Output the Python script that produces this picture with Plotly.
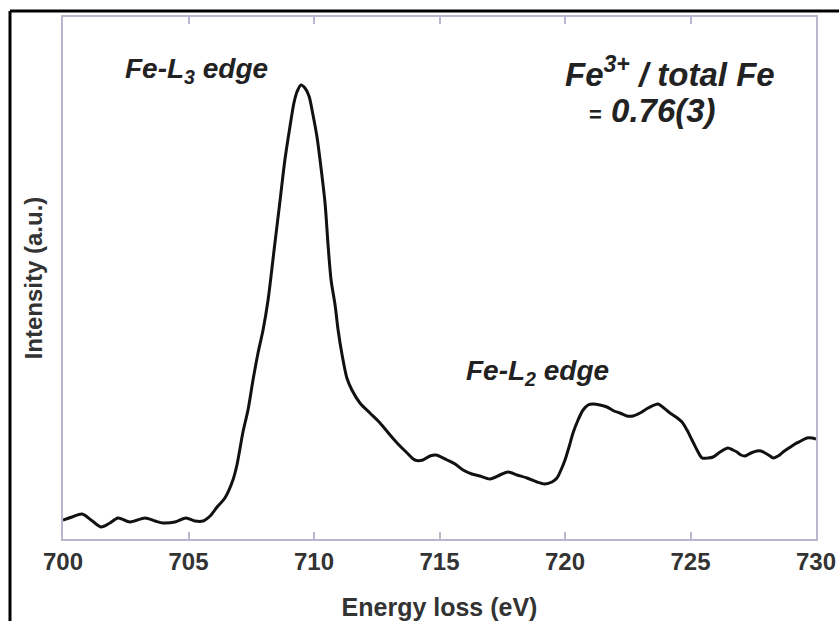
import plotly.graph_objects as go

energy_ev = [
    700.00, 700.36, 700.76, 701.12, 701.51, 701.87, 702.19, 702.67, 703.27, 703.67,
    703.98, 704.46, 704.90, 705.26, 705.58, 705.86, 706.14, 706.45, 706.77, 706.93,
    707.17, 707.37, 707.57, 707.77, 707.97, 708.17, 708.41, 708.65, 708.84, 709.04,
    709.20, 709.32, 709.48, 709.64, 709.80, 709.96, 710.12, 710.28, 710.44, 710.56,
    710.68, 710.84, 710.96, 711.12, 711.31, 711.51, 711.83, 712.23, 712.63, 713.03,
    713.31, 713.67, 714.02, 714.34, 714.62, 714.86, 715.30, 715.62, 715.94, 716.29,
    716.61, 717.01, 717.41, 717.73, 718.09, 718.49, 718.88, 719.20, 719.48, 719.68,
    719.84, 720.00, 720.16, 720.32, 720.52, 720.72, 720.92, 721.12, 721.39, 721.67,
    721.95, 722.19, 722.47, 722.71, 722.99, 723.31, 723.71, 723.94, 724.18, 724.42,
    724.66, 724.86, 725.06, 725.26, 725.46, 725.70, 725.90, 726.18, 726.49, 726.69,
    726.85, 727.01, 727.17, 727.41, 727.65, 727.81, 727.97, 728.17, 728.29, 728.49,
    728.69, 728.92, 729.16, 729.40, 729.64, 729.84, 730.00,
]
intensity_au = [
    0.19, 0.22, 0.25, 0.19, 0.12, 0.16, 0.21, 0.17, 0.21, 0.18,
    0.16, 0.17, 0.21, 0.18, 0.18, 0.23, 0.32, 0.41, 0.59, 0.74,
    1.07, 1.29, 1.59, 1.86, 2.09, 2.39, 2.89, 3.39, 3.79, 4.12,
    4.36, 4.47, 4.54, 4.51, 4.43, 4.24, 4.02, 3.71, 3.36, 2.94,
    2.59, 2.34, 2.09, 1.84, 1.61, 1.49, 1.36, 1.26, 1.16, 1.04,
    0.96, 0.87, 0.79, 0.79, 0.83, 0.84, 0.79, 0.75, 0.69, 0.65,
    0.63, 0.60, 0.64, 0.67, 0.64, 0.61, 0.57, 0.55, 0.57, 0.61,
    0.69, 0.79, 0.92, 1.06, 1.19, 1.29, 1.34, 1.35, 1.34, 1.32,
    1.28, 1.26, 1.23, 1.23, 1.26, 1.31, 1.35, 1.31, 1.26, 1.22,
    1.17, 1.09, 0.99, 0.89, 0.81, 0.81, 0.82, 0.87, 0.91, 0.89,
    0.87, 0.84, 0.83, 0.86, 0.88, 0.88, 0.86, 0.83, 0.81, 0.83,
    0.87, 0.91, 0.95, 0.98, 1.01, 1.01, 1.00,
]

x_tick_values = [700, 705, 710, 715, 720, 725, 730]
x_tick_labels = ["700", "705", "710", "715", "720", "725", "730"]

axis_color = "#b7b7cf"
text_color = "#333333"
font_family = "Liberation Sans, Arial, sans-serif"

fig = go.Figure()
fig.add_trace(go.Scatter(
    x=energy_ev, y=intensity_au, mode="lines",
    line=dict(color="#111111", width=3, shape="spline", smoothing=0.8),
    showlegend=False, hoverinfo="skip",
))

fig.update_layout(
    width=839, height=621,
    margin=dict(l=63, r=23, t=17, b=82),
    paper_bgcolor="white", plot_bgcolor="white",
    font=dict(family=font_family, color=text_color),
)

fig.update_xaxes(
    range=[700, 730], tickvals=x_tick_values, ticktext=x_tick_labels,
    automargin=False, ticklabeloverflow="allow",
    showline=True, linecolor=axis_color, linewidth=2, mirror="ticks",
    ticks="inside", ticklen=7, tickcolor=axis_color, tickwidth=1.5,
    showgrid=False, zeroline=False,
    tickfont=dict(family=font_family, size=24, color=text_color, weight="bold"),
    title=dict(text="Energy loss (eV)", standoff=26,
               font=dict(family=font_family, size=25, color=text_color, weight="bold")),
)
fig.update_yaxes(
    range=[0, 5.22], showticklabels=False, ticks="", automargin=False,
    showline=True, linecolor=axis_color, linewidth=2, mirror=True,
    showgrid=False, zeroline=False,
    title=dict(text="Intensity (a.u.)", standoff=12,
               font=dict(family=font_family, size=24, color=text_color, weight="bold")),
)

# outer black frame (top and left edges visible)
fig.add_shape(type="line", xref="paper", yref="paper",
              x0=-0.0704, x1=1.05, y0=1.0115, y1=1.0115,
              line=dict(color="black", width=3))
fig.add_shape(type="line", xref="paper", yref="paper",
              x0=-0.0704, x1=-0.0704, y0=-0.2, y1=1.0115,
              line=dict(color="black", width=3))

ann_font = dict(family=font_family, color="#222222", weight="bold", style="italic")
fig.add_annotation(x=705.3, y=4.69, text="Fe-L<sub>3</sub> edge", showarrow=False,
                   font=dict(size=28, **ann_font))
fig.add_annotation(x=718.9, y=1.67, text="Fe-L<sub>2</sub> edge", showarrow=False,
                   font=dict(size=28, **ann_font))
fig.add_annotation(x=724.2, y=4.67, text="Fe<sup>3+</sup> / total Fe", showarrow=False,
                   font=dict(size=33, **ann_font))
fig.add_annotation(x=723.5, y=4.29,
                   text="<span style='font-style:normal;font-size:22px'>=</span> 0.76(3)",
                   showarrow=False, font=dict(size=33, **ann_font))

fig.write_html(
    "out.html",
    config={"displayModeBar": False},
    post_script="document.body.style.margin='0';"
                "document.body.style.overflow='hidden';"
                "document.documentElement.style.overflow='hidden';",
)
